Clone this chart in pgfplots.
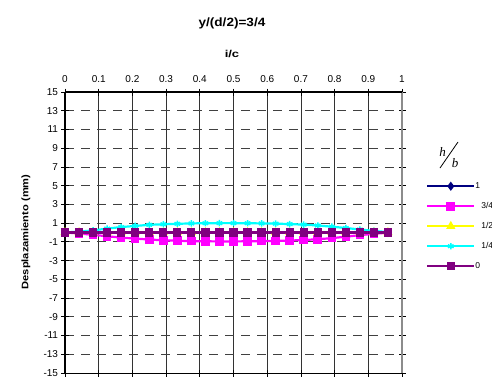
\documentclass[border=0pt]{standalone}
\usepackage{pgfplots}
\pgfplotsset{compat=1.18}
\usepackage{pgfplotstable}
\usepackage{fontspec}
\setmainfont{Liberation Sans}
\newfontfamily\serifit{Liberation Serif}
\definecolor{cnavy}{RGB}{0,0,128}
\definecolor{cmag}{RGB}{255,0,255}
\definecolor{cyel}{RGB}{255,255,0}
\definecolor{ccyan}{RGB}{0,255,255}
\definecolor{cpur}{RGB}{128,0,128}
\pgfplotstableread{
x      h1   h34    h12   h14   h0
0      0    0      0     0     0
0.0417 0    -0.10  0     0.10  0
0.0833 0    -0.25  0     0.22  0
0.125  0    -0.40  0     0.42  0
0.1667 0    -0.55  0     0.58  0
0.2083 0    -0.65  0     0.70  0
0.25   0    -0.75  0     0.82  0
0.2917 0    -0.83  0     0.88  0
0.3333 0    -0.88  0     0.93  0
0.375  0    -0.92  0     0.97  0
0.4167 0    -0.94  0     0.99  0
0.4583 0    -0.95  0     1.00  0
0.5    0    -0.95  0     1.00  0
0.5417 0    -0.94  0     0.99  0
0.5833 0    -0.92  0     0.97  0
0.625  0    -0.90  0     0.95  0
0.6667 0    -0.86  0     0.90  0
0.7083 0    -0.80  0     0.84  0
0.75   0    -0.72  0     0.75  0
0.7917 0    -0.60  0     0.62  0
0.8333 0    -0.45  0     0.48  0
0.875  0    -0.28  0     0.32  0
0.9167 0    -0.14  0     0.17  0
0.9583 0    -0.02  0     0.04  0
}\datatable
\begin{document}
\begin{tikzpicture}
\path[use as bounding box] (0,0) rectangle (492pt,376pt);
\begin{axis}[
  at={(65pt,3pt)}, anchor=south west,
  scale only axis, width=337pt, height=281pt,
  xmin=0, xmax=1, ymin=-15, ymax=15,
  xtick={0,0.1,...,1.0},
  xticklabels={0,0.1,0.2,0.3,0.4,0.5,0.6,0.7,0.8,0.9,1},
  ytick={-15,-13,...,15},
  xticklabel pos=right,
  ticklabel style={font=\fontsize{10}{12}\selectfont},
  xticklabel style={yshift=2pt},
  /pgf/number format/assume math mode=true,
  tick align=center, major tick length=7pt,
  tick style={black, line width=0.8pt},
  axis line style={draw=none},
  xmajorgrids, ymajorgrids,
  x grid style={black!80, line width=0.8pt},
  y grid style={black!75, line width=0.8pt, dash pattern=on 9pt off 7pt},
  clip=false,
  legend style={at={(1.0712,0.701)}, anchor=north west, draw=none, fill=none,
    font=\fontsize{8.5}{10}\selectfont, row sep=0pt, inner sep=0pt,
    nodes={minimum height=20pt, inner sep=0pt, outer sep=0pt},
    /tikz/every even column/.append style={column sep=2pt}},
  legend cell align=left,
  legend image code/.code={\draw[#1,mark repeat=2,mark phase=2] plot coordinates {(0pt,0pt) (23.5pt,0pt) (47pt,0pt)};},
]
\draw[black, line width=1.8pt] (rel axis cs:0,0) -- (rel axis cs:0,1);
\draw[black!45, line width=2.2pt] (rel axis cs:1,0) -- (rel axis cs:1,1);
\draw[black, line width=1.3pt] (rel axis cs:0,1) -- (rel axis cs:1,1);
\draw[black, line width=1pt] (rel axis cs:0,0) -- (rel axis cs:1,0);
\addplot[cnavy, line width=2.2pt, mark=diamond*, mark size=2.8pt] table[x=x,y=h1] {\datatable};
\addlegendentry{1}
\addplot[cmag, line width=2.2pt, mark=square*, mark size=3.2pt] table[x=x,y=h34] {\datatable};
\addlegendentry{\hspace{6pt}3/4}
\addplot[cyel, line width=2.2pt, mark=triangle*, mark size=3.2pt] table[x=x,y=h12] {\datatable};
\addlegendentry{\hspace{6pt}1/2}
\addplot[ccyan, line width=2.2pt, mark=asterisk, mark size=3.2pt, mark options={line width=1.5pt}] table[x=x,y=h14] {\datatable};
\addlegendentry{\hspace{6pt}1/4}
\addplot[cpur, line width=2.2pt, mark=square*, mark size=3pt] table[x=x,y=h0] {\datatable};
\addlegendentry{0}
\node[font=\fontsize{12}{14}\selectfont\bfseries] at (rel axis cs:0.4955,1.2456) {\scalebox{1.13}[1]{y/(d/2)=3/4}};
\node[font=\fontsize{10}{12}\selectfont\bfseries] at (rel axis cs:0.4955,1.135) {\scalebox{1.3}[1]{i/c}};
\node[font=\fontsize{9.5}{11}\selectfont\bfseries, rotate=90] at (rel axis cs:-0.1157,0.502) {\scalebox{1.17}[1]{Desplazamiento (mm)}};
\node[font=\serifit\itshape\fontsize{13}{15}\selectfont, inner sep=0pt] at (rel axis cs:1.1202,0.7883) {h};
\node[font=\serifit\itshape\fontsize{13}{15}\selectfont, inner sep=0pt] at (rel axis cs:1.1573,0.7473) {b};
\draw[black, line width=0.8pt] (rel axis cs:1.1128,0.7295) -- (rel axis cs:1.1662,0.8221);
\end{axis}
\end{tikzpicture}
\end{document}
